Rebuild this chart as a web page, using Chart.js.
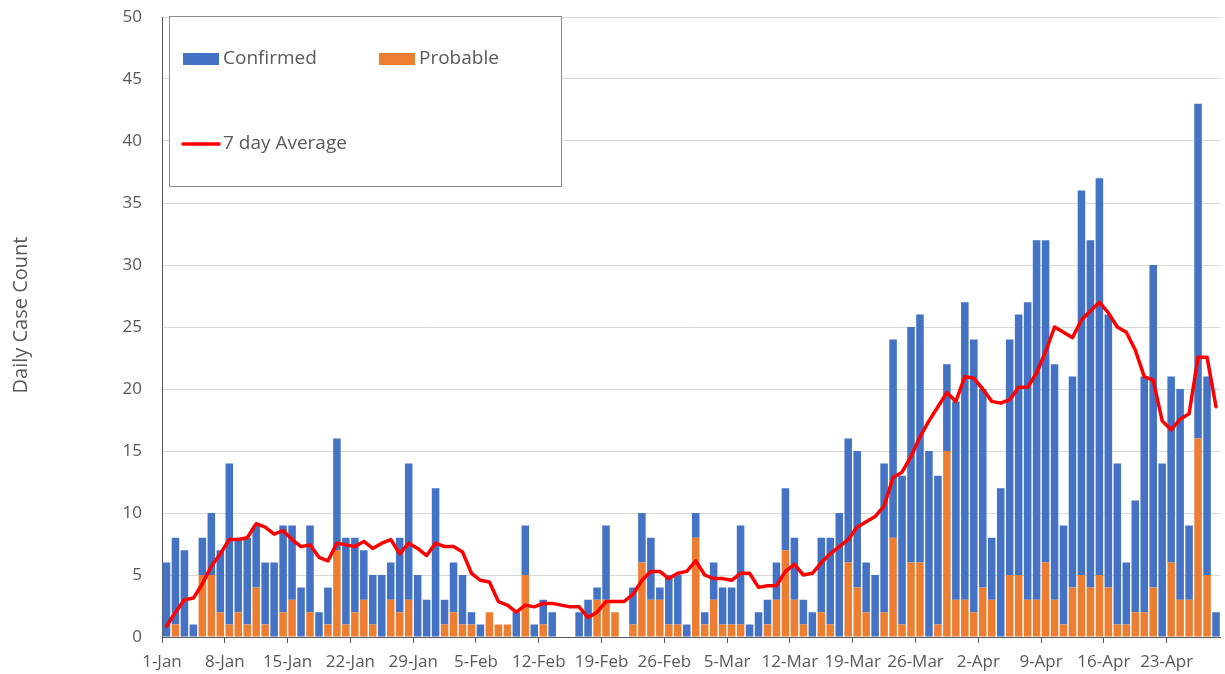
<!DOCTYPE html>
<html><head><meta charset="utf-8">
<script src="https://cdn.jsdelivr.net/npm/chart.js@4/dist/chart.umd.min.js"></script>
<style>html,body{margin:0;padding:0;background:#fff;overflow:hidden}#wrap{position:relative;width:1225px;height:674px}</style>
</head><body><div id="wrap"><canvas id="c" width="1225" height="674"></canvas></div>
<script>
const categories = [
 '1-Jan','2-Jan','3-Jan','4-Jan','5-Jan','6-Jan','7-Jan','8-Jan','9-Jan','10-Jan','11-Jan','12-Jan','13-Jan','14-Jan','15-Jan','16-Jan','17-Jan','18-Jan','19-Jan','20-Jan','21-Jan','22-Jan','23-Jan','24-Jan','25-Jan','26-Jan','27-Jan','28-Jan','29-Jan','30-Jan','31-Jan',
 '1-Feb','2-Feb','3-Feb','4-Feb','5-Feb','6-Feb','7-Feb','8-Feb','9-Feb','10-Feb','11-Feb','12-Feb','13-Feb','14-Feb','15-Feb','16-Feb','17-Feb','18-Feb','19-Feb','20-Feb','21-Feb','22-Feb','23-Feb','24-Feb','25-Feb','26-Feb','27-Feb','28-Feb',
 '1-Mar','2-Mar','3-Mar','4-Mar','5-Mar','6-Mar','7-Mar','8-Mar','9-Mar','10-Mar','11-Mar','12-Mar','13-Mar','14-Mar','15-Mar','16-Mar','17-Mar','18-Mar','19-Mar','20-Mar','21-Mar','22-Mar','23-Mar','24-Mar','25-Mar','26-Mar','27-Mar','28-Mar','29-Mar','30-Mar','31-Mar',
 '1-Apr','2-Apr','3-Apr','4-Apr','5-Apr','6-Apr','7-Apr','8-Apr','9-Apr','10-Apr','11-Apr','12-Apr','13-Apr','14-Apr','15-Apr','16-Apr','17-Apr','18-Apr','19-Apr','20-Apr','21-Apr','22-Apr','23-Apr','24-Apr','25-Apr','26-Apr','27-Apr','28-Apr'
];
const tickLabels = ['1-Jan','8-Jan','15-Jan','22-Jan','29-Jan','5-Feb','12-Feb','19-Feb','26-Feb','5-Mar','12-Mar','19-Mar','26-Mar','2-Apr','9-Apr','16-Apr','23-Apr'];
const yTicks = [0,5,10,15,20,25,30,35,40,45,50];

const probable = [
 0,1,0,0,5,5,2,1,2,1, 4,1,0,2,3,0,2,0,1,7, 1,2,3,1,0,3,2,3,0,0,
 0,1,2,1,1,0,2,1,1,0, 5,0,1,0,0,0,0,0,3,3, 2,0,1,6,3,3,1,1,0,8,
 1,3,1,1,1,0,0,1,3,7, 3,1,0,2,1,0,6,4,2,0, 2,8,1,6,6,0,1,15,3,3,
 2,4,3,0,5,5,3,3,6,3, 1,4,5,4,5,4,1,1,2,2, 4,0,6,3,3,16,5,0
];
const confirmed = [
 6,7,7,1,3,5,5,13,6,7, 5,5,6,7,6,4,7,2,3,9, 7,6,4,4,5,3,6,11,5,3,
 12,2,4,4,1,1,0,0,0,2, 4,1,2,2,0,0,2,3,1,6, 0,0,3,4,5,1,4,4,1,2,
 1,3,3,3,8,1,2,2,3,5, 5,2,2,6,7,10,10,11,4,5, 12,16,12,19,20,15,12,7,16,24,
 22,16,5,12,19,21,24,29,26,19, 8,17,31,28,32,22,13,5,9,19, 26,14,15,17,6,27,16,2
];
const sevenDayAverage = [
 0.86,2.0,3.0,3.14,4.29,5.71,6.71,7.86,7.86,8.0,
 9.14,8.86,8.29,8.57,7.86,7.29,7.43,6.43,6.14,7.57,
 7.43,7.29,7.71,7.14,7.57,7.86,6.71,7.57,7.14,6.57,
 7.57,7.29,7.29,6.86,5.14,4.57,4.43,2.86,2.57,2.0,
 2.57,2.43,2.71,2.71,2.57,2.43,2.43,1.57,2.0,2.86,
 2.86,2.86,3.43,4.57,5.29,5.29,4.71,5.14,5.29,6.14,
 5.0,4.71,4.71,4.57,5.14,5.14,4.0,4.14,4.14,5.29,
 5.86,5.0,5.14,6.0,6.71,7.29,7.86,8.86,9.29,9.71,
 10.57,12.86,13.29,14.57,16.14,17.43,18.57,19.71,19.0,21.0,
 20.86,20.0,19.0,18.86,19.14,20.14,20.14,21.29,23.0,25.0,
 24.57,24.14,25.57,26.29,27.0,26.14,25.0,24.57,23.14,21.0,
 20.71,17.43,16.71,17.57,18.0,22.57,22.57,18.57
];
const seriesNames = ['Confirmed','Probable','7 day Average'];
const yAxisTitle = 'Daily Case Count';

const FONT = "'Open Sans', sans-serif";
const GRAY = '#595959';
const BLUE = '#4472C4', ORANGE = '#ED7D31', RED = '#FF0000';

const boxLegend = {
  id: 'boxLegend',
  afterDraw(chart) {
    const ctx = chart.ctx;
    ctx.save();
    ctx.fillStyle = '#ffffff';
    ctx.fillRect(169, 16, 393, 171);
    ctx.strokeStyle = '#8c8c8c';
    ctx.lineWidth = 1;
    ctx.strokeRect(169.5, 16.5, 392, 170);
    ctx.font = '19px ' + FONT;
    ctx.textBaseline = 'middle';
    ctx.textAlign = 'left';
    ctx.fillStyle = BLUE; ctx.fillRect(183, 53, 36, 12);
    ctx.fillStyle = GRAY; ctx.fillText(seriesNames[0], 223, 59);
    ctx.fillStyle = ORANGE; ctx.fillRect(379, 53, 36, 12);
    ctx.fillStyle = GRAY; ctx.fillText(seriesNames[1], 419, 59);
    ctx.strokeStyle = RED; ctx.lineWidth = 3.5; ctx.lineCap = 'round';
    ctx.beginPath(); ctx.moveTo(183, 144); ctx.lineTo(219, 144); ctx.stroke();
    ctx.fillStyle = GRAY; ctx.fillText(seriesNames[2], 223, 144);
    ctx.save();
    ctx.translate(21, 315);
    ctx.rotate(-Math.PI / 2);
    ctx.textAlign = 'center';
    ctx.font = '20px ' + FONT;
    ctx.fillText(yAxisTitle, 0, 0);
    ctx.restore();
    ctx.restore();
  }
};

new Chart(document.getElementById('c'), {
  data: {
    labels: categories,
    datasets: [
      { type: 'line', label: seriesNames[2], data: sevenDayAverage, borderColor: RED, backgroundColor: RED,
        borderWidth: 3.5, pointRadius: 0, tension: 0, borderJoinStyle: 'round', borderCapStyle: 'round',
        order: 0, stack: 'avg' },
      { type: 'bar', label: seriesNames[1], data: probable, backgroundColor: ORANGE, order: 1, stack: 'cases',
        barPercentage: 0.84, categoryPercentage: 1.0 },
      { type: 'bar', label: seriesNames[0], data: confirmed, backgroundColor: BLUE, order: 1, stack: 'cases',
        barPercentage: 0.84, categoryPercentage: 1.0 }
    ]
  },
  options: {
    responsive: false,
    animation: false,
    devicePixelRatio: 1,
    layout: { padding: { top: 17, right: 0, left: 0, bottom: 0 } },
    plugins: { legend: { display: false }, tooltip: { enabled: false } },
    scales: {
      x: {
        type: 'category',
        stacked: true,
        offset: true,
        afterFit(scale) { scale.height = 37; },
        border: { display: true, color: GRAY, width: 1 },
        grid: {
          offset: true, drawOnChartArea: false, drawTicks: true, tickLength: 6, tickWidth: 1,
          tickColor: (c) => (c.index < categories.length && tickLabels.includes(categories[c.index])) ? GRAY : 'rgba(0,0,0,0)'
        },
        ticks: {
          autoSkip: false, maxRotation: 0, minRotation: 0, labelOffset: -4.5, padding: 9,
          color: GRAY, font: { family: FONT, size: 17 },
          callback: (v, i) => tickLabels.includes(categories[i]) ? categories[i] : ''
        }
      },
      y: {
        stacked: true,
        min: 0, max: 50,
        afterFit(scale) { scale.width = 162; scale.paddingTop = 0; scale.paddingBottom = 0; },
        afterBuildTicks(scale) { scale.ticks = yTicks.map(v => ({ value: v })); },
        border: { display: true, color: GRAY, width: 1 },
        grid: { color: '#d9d9d9', lineWidth: 1, drawTicks: false },
        ticks: { padding: 20, color: GRAY, font: { family: FONT, size: 17 } }
      }
    }
  },
  plugins: [boxLegend]
});
</script>
</body></html>
